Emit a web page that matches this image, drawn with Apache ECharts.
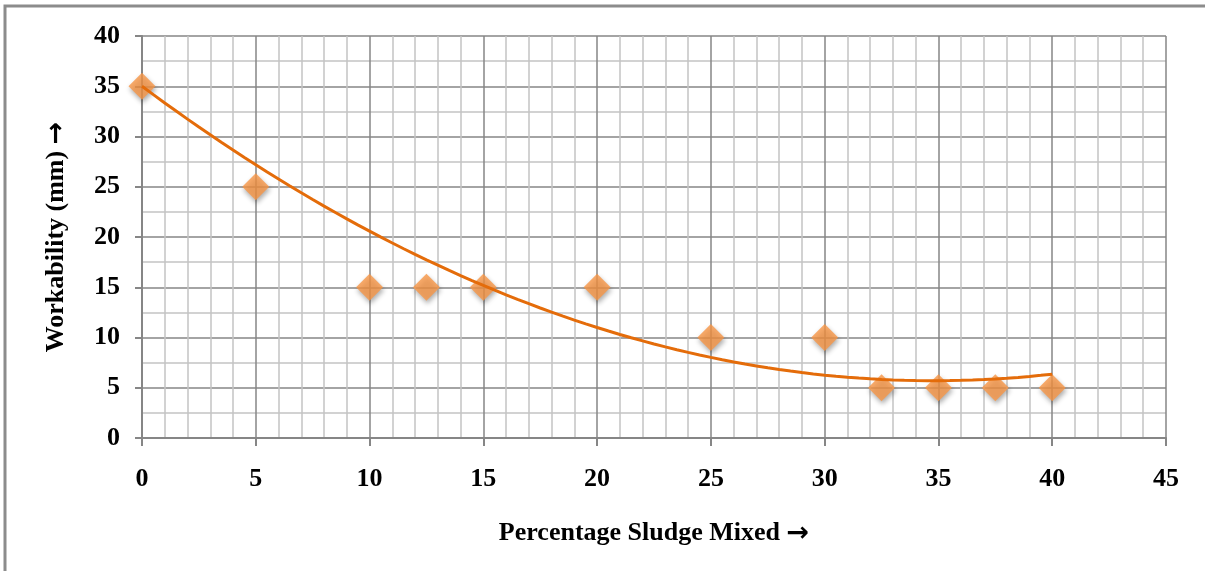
<!DOCTYPE html>
<html>
<head>
<meta charset="utf-8">
<script src="https://cdn.jsdelivr.net/npm/echarts@6/dist/echarts.min.js"></script>
<style>
  html, body { margin: 0; padding: 0; background: #fff; }
  #chart { width: 1205px; height: 571px; }
</style>
</head>
<body>
<div id="chart"></div>
<script>
// Percentage of sludge mixed into the concrete, and measured workability (mm)
const sludgePercent = [0, 5, 10, 12.5, 15, 20, 25, 30, 32.5, 35, 37.5, 40];
const workability   = [35, 25, 15, 15, 15, 15, 10, 10, 5, 5, 5, 5];
const xTicks = [0, 5, 10, 15, 20, 25, 30, 35, 40, 45];
const yTicks = [0, 5, 10, 15, 20, 25, 30, 35, 40];

// Second-order polynomial trend line, intercept pinned to the 0 % measurement,
// remaining coefficients by least squares: y = a + b*x + c*x^2
function quadFitFixedIntercept(xs, ys, a) {
  let s2 = 0, s3 = 0, s4 = 0, t1 = 0, t2 = 0;
  for (let i = 0; i < xs.length; i++) {
    const x = xs[i], z = ys[i] - a;
    s2 += x * x; s3 += x * x * x; s4 += x * x * x * x;
    t1 += x * z; t2 += x * x * z;
  }
  const det = s2 * s4 - s3 * s3;
  return [a, (t1 * s4 - s3 * t2) / det, (s2 * t2 - s3 * t1) / det];
}
const coef = quadFitFixedIntercept(sludgePercent, workability, workability[0]);
const xMin = sludgePercent[0], xMax = sludgePercent[sludgePercent.length - 1];
const trend = [];
for (let i = 0; i <= 80; i++) {
  const x = xMin + (xMax - xMin) * i / 80;
  trend.push([x, coef[0] + coef[1] * x + coef[2] * x * x]);
}

const font = '"Liberation Serif", "Times New Roman", serif';
const nameRich = {
  t: { fontFamily: font, fontWeight: 'bold', fontSize: 26, color: '#000' },
  a: { fontFamily: 'DejaVu Sans', fontWeight: 'bold', fontSize: 27, color: '#000' }
};
const chart = echarts.init(document.getElementById('chart'));
chart.setOption({
  animation: false,
  backgroundColor: '#fff',
  graphic: [{
    type: 'rect',
    shape: { x: 5, y: 6, width: 1260, height: 640 },
    style: { fill: 'none', stroke: '#8c8c8c', lineWidth: 3 },
    silent: true
  }],
  grid: { left: 142, right: 39, top: 36, bottom: 133, containLabel: false },
  xAxis: {
    type: 'value',
    min: xTicks[0], max: xTicks[xTicks.length - 1], interval: 5,
    name: '{t|Percentage Sludge Mixed }{a|\u2192}',
    nameLocation: 'middle', nameGap: 82,
    nameTextStyle: { rich: nameRich },
    axisLine: { lineStyle: { color: '#868686', width: 2 } },
    axisTick: { show: true, length: 8, lineStyle: { color: '#868686', width: 2 } },
    axisLabel: { margin: 28, fontFamily: font, fontWeight: 'bold', fontSize: 26, color: '#000' },
    splitLine: { show: true, lineStyle: { color: '#868686', width: 1.5 } },
    minorTick: { show: false, splitNumber: 5 },
    minorSplitLine: { show: true, lineStyle: { color: '#c3c3c3', width: 1.5 } }
  },
  yAxis: {
    type: 'value',
    min: yTicks[0], max: yTicks[yTicks.length - 1], interval: 5,
    name: '{t|Workability (mm) }{a|\u2192}',
    nameLocation: 'middle', nameGap: 72,
    nameTextStyle: { rich: nameRich },
    axisLine: { show: true, lineStyle: { color: '#868686', width: 2 } },
    axisTick: { show: true, length: 7, lineStyle: { color: '#868686', width: 2 } },
    axisLabel: { margin: 22, fontFamily: font, fontWeight: 'bold', fontSize: 26, color: '#000' },
    splitLine: { show: true, lineStyle: { color: '#868686', width: 1.5 } },
    minorTick: { show: false, splitNumber: 2 },
    minorSplitLine: { show: true, lineStyle: { color: '#c3c3c3', width: 1.5 } }
  },
  series: [
    {
      type: 'scatter',
      data: sludgePercent.map((x, i) => [x, workability[i]]),
      symbol: 'diamond',
      symbolSize: 27,
      itemStyle: {
        color: '#f79646',
        shadowColor: 'rgba(0,0,0,0.4)',
        shadowBlur: 5,
        shadowOffsetX: 1,
        shadowOffsetY: 3
      },
      z: 3
    },
    {
      type: 'line',
      data: trend,
      showSymbol: false,
      smooth: false,
      lineStyle: { color: '#e46c0a', width: 3 },
      z: 4,
      silent: true
    }
  ]
});
</script>
</body>
</html>
